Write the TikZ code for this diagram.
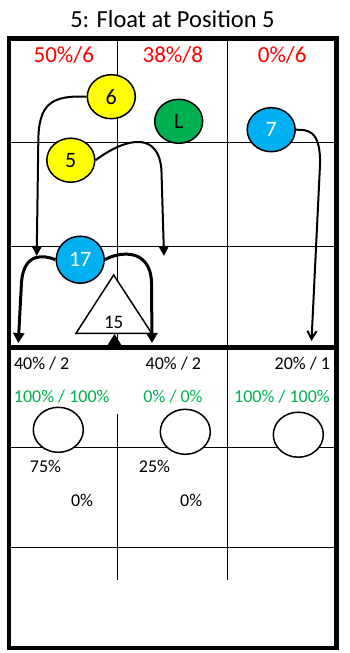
\documentclass[tikz,border=0pt]{standalone}
\usepackage{fontspec}
\setmainfont{Carlito}
\usetikzlibrary{arrows.meta,shapes.geometric}
\definecolor{pyellow}{HTML}{FFFF00}
\definecolor{pgreen}{HTML}{00B050}
\definecolor{pblue}{HTML}{00B0F0}
\definecolor{sgreen}{HTML}{00B050}
\tikzset{
  player/.style={draw, ellipse, line width=1.5pt, inner sep=0pt,
    minimum width=48pt, minimum height=44pt, font=\fontsize{22}{24}\selectfont},
  spot/.style={draw, ellipse, line width=1.5pt, fill=white, inner sep=0pt,
    minimum width=50pt, minimum height=45pt},
  topstat/.style={text=red, font=\fontsize{23}{25}\selectfont},
  stat/.style={font=\fontsize{18}{20}\selectfont},
  hitstat/.style={text=sgreen, font=\fontsize{18}{20}\selectfont},
  route/.style={line width=2pt, -{Triangle[width=10pt,length=10pt]}},
  heavy/.style={line width=3pt, -{Triangle[width=11pt,length=10pt]}},
}
\begin{document}
\begin{tikzpicture}[x=1pt,y=-1pt]
    \useasboundingbox (0,0) rectangle (349,653);
    \node[font=\fontsize{24.5}{27}\selectfont] (title) at (172.5,19) {5: Float at Position 5};

    \draw[line width=1pt] (9,142.3) -- (337,142.3);
    \draw[line width=1pt] (9,246) -- (337,246);
    \draw[line width=1pt] (117.3,38) -- (117.3,347);
    \draw[line width=1pt] (227.3,38) -- (227.3,580);
    \draw[line width=1pt] (9,447.7) -- (337,447.7);
    \draw[line width=1pt] (9,547.3) -- (337,547.3);
    \draw[line width=1pt] (117.3,414) -- (117.3,580);
    \draw[line width=4.5pt] (9,347.5) -- (337,347.5);
    \draw[line width=4.5pt] (9,38.3) rectangle (336.7,648);

    \node[topstat] (s1) at (63.8,55) {50\%/6};
    \node[topstat] (s2) at (172.8,55) {38\%/8};
    \node[topstat] (s3) at (282.2,55) {0\%/6};

    \node[player, fill=pyellow] (p6) at (111.3,96.7) {6};
    \node[player, fill=pgreen] (pl) at (178.7,121.3) {L};
    \node[player, fill=pblue, text=white] (p7) at (271.2,129.7) {7};
    \node[player, fill=pyellow] (p5) at (70.8,160.2) {5};
    \node[player, fill=pblue, text=white, minimum height=47pt] (p17) at (80.2,259.7) {17};

    \draw[line width=1.5pt, fill=white] (113.7,275) -- (151.7,333.3) -- (76,333.3) -- cycle;
    \node[font=\fontsize{19}{21}\selectfont] (n15) at (113.7,322.5) {15};

    \coordinate (a6) at (36.7,256);
    \coordinate (a5) at (164,256);
    \coordinate (a7) at (311.5,341);
    \coordinate (al) at (18.3,343);
    \coordinate (ar) at (152,343);
    \coordinate (b15) at (114.5,334);

    \draw[route] (p6.west) .. controls (50,95) and (38.5,105) .. (38.3,142) -- (a6);
    \draw[route] (p5.east) .. controls (128,136) and (160,132) .. (161.5,172) -- (a5);
    \draw[line width=2pt, -{Straight Barb[width=9pt,length=8pt]}]
        (p7.east) .. controls (306,130) and (321,128) .. (320,165) -- (a7);
    \draw[heavy] (p17.west) .. controls (44,255) and (24,252) .. (21.5,282) -- (al);
    \draw[heavy] (p17.east) .. controls (118,252) and (150,247) .. (151.5,282) -- (ar);
    \fill (b15) -- (122,346) -- (107,346) -- cycle;

    \node[stat, anchor=west] (c1) at (10.5,363.3) {40\% / 2};
    \node[stat] (c2) at (173.3,363.3) {40\% / 2};
    \node[stat, anchor=east] (c3) at (333.5,363.3) {20\% / 1};
    \node[hitstat] (h1) at (61.7,396.7) {100\% / 100\%};
    \node[hitstat] (h2) at (173,396.7) {0\% / 0\%};
    \node[hitstat] (h3) at (282,396.7) {100\% / 100\%};

    \node[spot] (o1) at (58.3,429.8) {};
    \node[spot] (o2) at (185.3,431.8) {};
    \node[spot] (o3) at (298.3,434.7) {};

    \node[stat] (d1) at (45.5,466.7) {75\%};
    \node[stat] (d2) at (82,500.7) {0\%};
    \node[stat] (d3) at (154.5,466.7) {25\%};
    \node[stat] (d4) at (191.2,500.7) {0\%};
\end{tikzpicture}
\end{document}
